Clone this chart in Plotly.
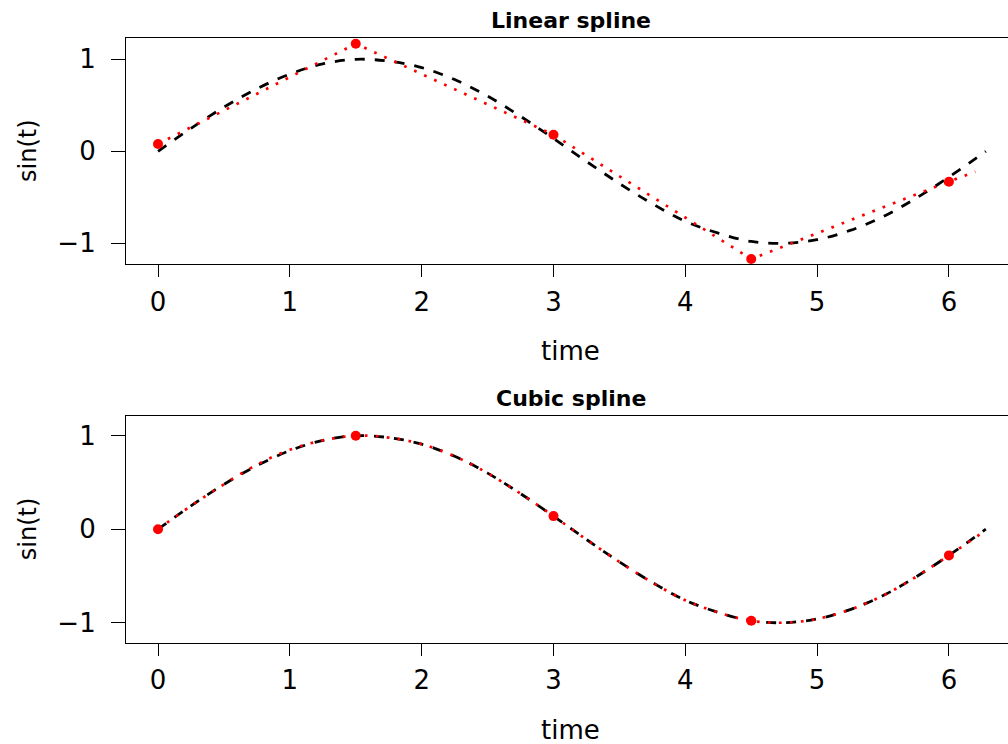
import plotly.graph_objects as go

# ---- data ----
knot_t = [0, 1.5, 3, 4.5, 6]
linear_knots = [0.08, 1.17, 0.18, -1.17, -0.33]
cubic_knots = [0.0, 1.0, 0.14, -0.98, -0.28]

linear_t = [0, 1.5, 3, 4.5, 6, 6.2]
linear_y = [0.08, 1.17, 0.18, -1.17, -0.33, -0.22]

curve_t = [0, 0.25, 0.5, 0.75, 1.0, 1.25, 1.5, 1.75, 2.0, 2.25, 2.5, 2.75, 3.0,
           3.25, 3.5, 3.75, 4.0, 4.25, 4.5, 4.75, 5.0, 5.25, 5.5, 5.75, 6.0, 6.25, 6.28]
sin_y = [0.0, 0.25, 0.48, 0.68, 0.84, 0.95, 1.0, 0.98, 0.91, 0.78, 0.6, 0.38, 0.14,
         -0.11, -0.35, -0.57, -0.76, -0.89, -0.98, -1.0, -0.96, -0.86, -0.71, -0.51, -0.28, -0.03, 0.0]
cubic_y = [0.0, 0.25, 0.48, 0.69, 0.85, 0.95, 1.0, 0.98, 0.91, 0.78, 0.6, 0.38, 0.14,
           -0.11, -0.35, -0.57, -0.76, -0.89, -0.98, -1.0, -0.96, -0.86, -0.71, -0.51, -0.28, -0.04, -0.01]

x_ticks = [0, 1, 2, 3, 4, 5, 6]
y_ticks = [-1, 0, 1]
y_tick_text = ["\u22121", "0", "1"]
titles = ["Linear spline", "Cubic spline"]

W, H = 1008, 744
FONT = "DejaVu Sans"
TICKFONT = dict(family=FONT, size=26, color="black")

fig = go.Figure()

panels = [
    dict(xa="x", ya="y", interp_t=linear_t, interp_y=linear_y, knots=linear_knots, curve=sin_y),
    dict(xa="x2", ya="y2", interp_t=curve_t, interp_y=cubic_y, knots=cubic_knots, curve=sin_y),
]
for p in panels:
    fig.add_trace(go.Scatter(x=curve_t, y=p["curve"], mode="lines", xaxis=p["xa"], yaxis=p["ya"],
                             line=dict(color="black", width=2.8, dash="10px,10px", shape="spline"),
                             showlegend=False, hoverinfo="skip"))
    fig.add_trace(go.Scatter(x=p["interp_t"], y=p["interp_y"], mode="lines", xaxis=p["xa"], yaxis=p["ya"],
                             line=dict(color="red", width=2.7, dash="2.7px,8.3px",
                                       shape="spline" if p["xa"] == "x2" else "linear"),
                             showlegend=False, hoverinfo="skip"))
    fig.add_trace(go.Scatter(x=knot_t, y=p["knots"], mode="markers", xaxis=p["xa"], yaxis=p["ya"],
                             marker=dict(color="red", size=10, line=dict(width=0)),
                             showlegend=False, hoverinfo="skip"))

# pixel geometry of the two plot boxes (top, bottom)
boxes = [(37.7, 264.3), (415.7, 642.7)]
left_px, right_px = 126, 1008
x_range = [-0.243, 6.448]
y_ranges = [[-1.228, 1.235], [-1.214, 1.214]]

axis_common = dict(showline=True, linecolor="black", linewidth=1.2, ticks="outside",
                   tickcolor="black", tickwidth=1.2, showgrid=False, zeroline=False,
                   tickfont=TICKFONT)

for i, (top, bot) in enumerate(boxes):
    sfx = "" if i == 0 else "2"
    fig.update_layout(**{
        "xaxis" + sfx: dict(axis_common, domain=[left_px / W, right_px / W], range=x_range,
                            tickvals=x_ticks, ticklen=12, mirror=True,
                            anchor="y" + sfx, ticklabelstandoff=2),
        "yaxis" + sfx: dict(axis_common, domain=[1 - bot / H, 1 - top / H], range=y_ranges[i],
                            tickvals=y_ticks, ticktext=y_tick_text, ticklen=14,
                            anchor="x" + sfx, tickangle=0, ticklabelstandoff=10),
    })
    # titles and axis labels
    fig.add_annotation(text="<b>" + titles[i] + "</b>", x=571 / W, y=1 - (top - 17) / H,
                       xref="paper", yref="paper", showarrow=False, xanchor="center", yanchor="middle",
                       font=dict(family=FONT, size=22, color="black"))
    fig.add_annotation(text="time", x=570 / W, y=1 - (bot + 87) / H,
                       xref="paper", yref="paper", showarrow=False, xanchor="center", yanchor="middle",
                       font=dict(family=FONT, size=26, color="black"))
    fig.add_annotation(text="sin(t)", x=28 / W, y=1 - ((top + bot) / 2) / H, textangle=-90,
                       xref="paper", yref="paper", showarrow=False, xanchor="center", yanchor="middle",
                       font=dict(family=FONT, size=24, color="black"))

fig.update_layout(width=W, height=H, margin=dict(l=0, r=0, t=0, b=0),
                  paper_bgcolor="white", plot_bgcolor="white")

fig.write_html("out.html")
